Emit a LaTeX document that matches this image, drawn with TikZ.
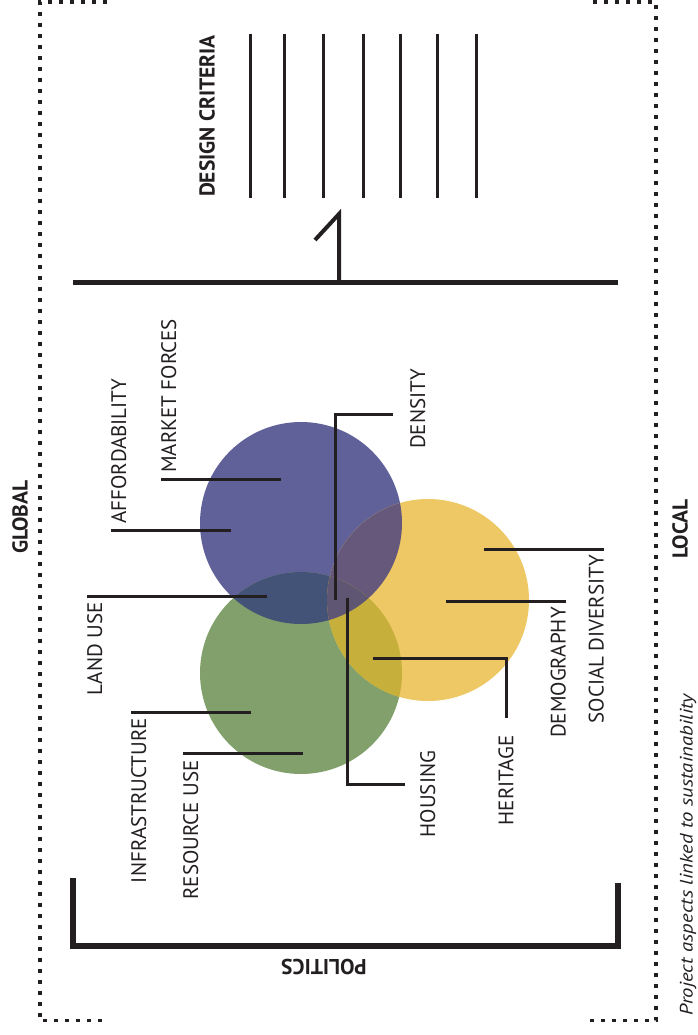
\documentclass[tikz,border=0pt]{standalone}
\usepackage{fontspec}
\setmainfont{PT Sans}
\definecolor{ink}{HTML}{231F20}
\definecolor{cpur}{HTML}{616199}
\definecolor{cgrn}{HTML}{82A06B}
\definecolor{cyel}{HTML}{EEC864}
\definecolor{cpg}{HTML}{425377}
\definecolor{cpy}{HTML}{65587A}
\definecolor{cgy}{HTML}{C6AF3A}
\definecolor{cpgy}{HTML}{5E5673}
\begin{document}
\begin{tikzpicture}[x=1pt,y=-1pt,
  lbl/.style={rotate=90,inner sep=0pt,text=ink,font=\fontsize{21}{21}\selectfont},
  blbl/.style={rotate=90,inner sep=0pt,text=ink,font=\fontsize{21.5}{21.5}\selectfont\bfseries},
  leader/.style={draw=ink,line width=3pt},
  bar/.style={draw=ink,line width=5pt},
  crit/.style={draw=ink,line width=3pt},
  dots/.style={draw=ink,line width=3.8pt,dash pattern=on 3.8pt off 7.2pt}]
\useasboundingbox (0,0) rectangle (697,1035);
% dotted frame
\draw[dots] (107,1.9) -- (40,1.9) -- (40,1020.5) -- (102,1020.5);
\draw[dots] (593,1.9) -- (656,1.9) -- (656,1020.5) -- (590,1020.5);
% circles
\coordinate (cP) at (301,523);
\coordinate (cG) at (301,673);
\coordinate (cY) at (428,600);
\fill[cpur] (cP) circle[radius=101pt];
\fill[cgrn] (cG) circle[radius=101pt];
\fill[cyel] (cY) circle[radius=101pt];
\begin{scope}
  \clip (cP) circle[radius=101pt];
  \fill[cpg] (cG) circle[radius=101pt];
  \fill[cpy] (cY) circle[radius=101pt];
\end{scope}
\begin{scope}
  \clip (cG) circle[radius=101pt];
  \fill[cgy] (cY) circle[radius=101pt];
  \clip (cY) circle[radius=101pt];
  \fill[cpgy] (cP) circle[radius=101pt];
\end{scope}
% design criteria
\node[blbl] (dc) at (207,116) {DESIGN CRITERIA};
\foreach \x/\n in {250/1,284/2,323/3,363/4,400/5,437/6,476/7}{
  \coordinate (ct\n) at (\x,34);
  \coordinate (cb\n) at (\x,198);
  \draw[crit] (ct\n) -- (cb\n);
}
\coordinate (oneA) at (315,240);
\coordinate (oneB) at (339,214);
\coordinate (oneC) at (339,282);
\draw[ink,line width=4pt,line cap=butt] (oneA) -- (oneB) -- (oneC);
\coordinate (hbL) at (73,282);
\coordinate (hbR) at (618,282);
\draw[bar] (hbL) -- (hbR);
% politics bracket
\coordinate (pA) at (73,878);
\coordinate (pB) at (73,946);
\coordinate (pC) at (618,946);
\coordinate (pD) at (618,883);
\draw[bar,line width=5.5pt] (pA) -- (pB) -- (pC) -- (pD);
\node[blbl,rotate=90] (pol) at (324,967) {POLITICS};
% side labels
\node[blbl] (glob) at (20,517) {GLOBAL};
\node[blbl] (loc) at (680,529) {LOCAL};
\node[rotate=90,inner sep=0pt,text=ink,font=\fontsize{18}{18}\selectfont\itshape] (proj) at (688,855) {\scalebox{1.15}[1]{Project aspects linked to sustainability}};
% labels
\node[lbl,anchor=north west] (mf) at (161,473) {MARKET FORCES};
\node[lbl,anchor=north west] (af) at (111,524) {AFFORDABILITY};
\node[lbl,anchor=north west] (de) at (410,449) {DENSITY};
\node[lbl,anchor=south east] (sd) at (604,555) {SOCIAL DIVERSITY};
\node[lbl,anchor=south east] (dm) at (566,607) {DEMOGRAPHY};
\node[lbl,anchor=east] (he) at (506,735) {HERITAGE};
\node[lbl,anchor=north] (ho) at (420,794) {HOUSING};
\node[lbl,anchor=north east] (lu) at (87,602) {LAND USE};
\node[lbl,anchor=north east] (in) at (131,718) {INFRASTRUCTURE};
\node[lbl,anchor=north east] (ru) at (183,760) {RESOURCE USE};
% leaders
\coordinate (mf1) at (161,479); \coordinate (mf2) at (281,479);
\draw[leader] (mf1) -- (mf2);
\coordinate (af1) at (111,530); \coordinate (af2) at (231,530);
\draw[leader] (af1) -- (af2);
\coordinate (de1) at (393,414); \coordinate (de2) at (335,414); \coordinate (de3) at (335,600);
\draw[leader] (de1) -- (de2) -- (de3);
\coordinate (sd1) at (484,549); \coordinate (sd2) at (604,549);
\draw[leader] (sd1) -- (sd2);
\coordinate (dm1) at (446,601); \coordinate (dm2) at (566,601);
\draw[leader] (dm1) -- (dm2);
\coordinate (he1) at (373,658); \coordinate (he2) at (506,658); \coordinate (he3) at (506,718);
\draw[leader] (he1) -- (he2) -- (he3);
\coordinate (ho1) at (347,598); \coordinate (ho2) at (347,784); \coordinate (ho3) at (405,784);
\draw[leader] (ho1) -- (ho2) -- (ho3);
\coordinate (lu1) at (87,596); \coordinate (lu2) at (267,596);
\draw[leader] (lu1) -- (lu2);
\coordinate (in1) at (131,712); \coordinate (in2) at (251,712);
\draw[leader] (in1) -- (in2);
\coordinate (ru1) at (183,753); \coordinate (ru2) at (303,753);
\draw[leader] (ru1) -- (ru2);
\end{tikzpicture}
\end{document}
